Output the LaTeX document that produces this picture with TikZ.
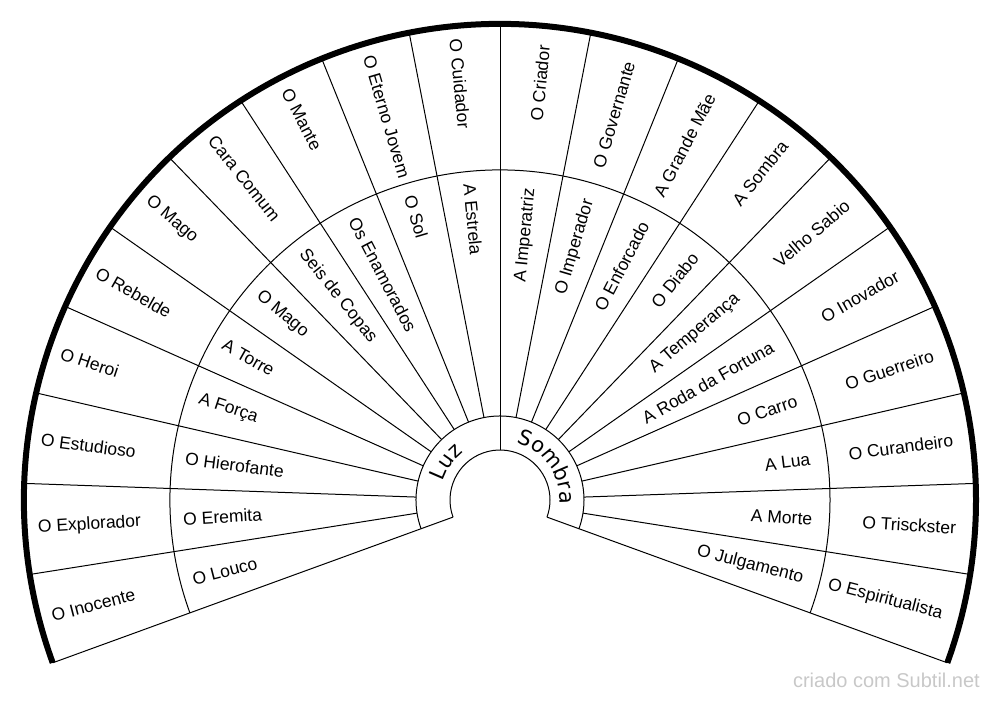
\documentclass[tikz,border=0pt]{standalone}
\usepackage{fontspec}
\setmainfont{Liberation Sans}
\newfontfamily\djv{DejaVu Sans}
\usetikzlibrary{decorations.text}
\definecolor{wmgray}{RGB}{200,200,200}
\begin{document}
\begin{tikzpicture}[x=1pt,y=1pt,
  rline/.style={line width=1pt, black},
  rim/.style={line width=6pt, black},
  lab/.style={font=\fontsize{17.5}{18}\selectfont, inner sep=0pt},
  wmark/.style={font=\fontsize{20}{20}\selectfont, text=wmgray, inner sep=0pt}
]
\useasboundingbox (0,0) rectangle (1000,702);
\coordinate (C) at (500,202);
\begin{scope}[shift={(C)}]
  % rings
  \draw[rline] (200:50) arc[start angle=200, end angle=-20, radius=50];
  \draw[rline] (200:84) arc[start angle=200, end angle=-20, radius=84];
  \draw[rline] (200:330) arc[start angle=200, end angle=-20, radius=330];
  % radial lines
  \foreach \k in {0,...,20} {
    \pgfmathsetmacro\a{-20+11*\k}
    \draw[rline] (\a:84) -- (\a:476);
  }
  \draw[rline] (200:50) -- (200:84);
  \draw[rline] (-20:50) -- (-20:84);
  \draw[rline] (90:50) -- (90:84);
  % outer rim
  \draw[rim] (200:476) arc[start angle=200, end angle=-20, radius=476];
  % right half labels
  \foreach \t [count=\j from 0] in {O Espiritualista, O Trisckster, O Curandeiro, O Guerreiro, O Inovador, Velho Sabio, A Sombra, A Grande Mãe, O Governante, O Criador} {
    \pgfmathsetmacro\a{-14.5+11*\j}
    \node[lab, anchor=east, rotate=\a] (or\j) at (\a:457) {\t};
  }
  \foreach \t [count=\j from 0] in {O Julgamento, A Morte, A Lua, O Carro, A Roda da Fortuna, A Temperança, O Diabo, O Enforcado, O Imperador, A Imperatriz} {
    \pgfmathsetmacro\a{-14.5+11*\j}
    \node[lab, anchor=east, rotate=\a] (mr\j) at (\a:313) {\t};
  }
  % left half labels
  \foreach \t [count=\j from 0] in {O Cuidador, O Eterno Jovem, O Mante, Cara Comum, O Mago, O Rebelde, O Heroi, O Estudioso, O Explorador, O Inocente} {
    \pgfmathsetmacro\a{95.5+11*\j}
    \node[lab, anchor=west, rotate=\a-180] (ol\j) at (\a:463) {\t};
  }
  \foreach \t [count=\j from 0] in {A Estrela, O Sol, Os Enamorados, Seis de Copas, O Mago, A Torre, A Força, O Hierofante, O Eremita, O Louco} {
    \pgfmathsetmacro\a{95.5+11*\j}
    \node[lab, anchor=west, rotate=\a-180] (ml\j) at (\a:317.5) {\t};
  }
  % inner ring curved texts
  \path[decorate, decoration={text along path, text={|\djv\fontsize{21}{21}\selectfont|Luz}, text align=center}]
    (200:60) arc[start angle=200, end angle=90, radius=60];
  \path[decorate, decoration={text along path, text={|\djv\fontsize{21}{21}\selectfont|Sombra}, text align=center}]
    (90:60) arc[start angle=90, end angle=-20, radius=60];
\end{scope}
\node[wmark, anchor=base east] (wm) at (980,14.5) {criado com Subtil.net};
\end{tikzpicture}
\end{document}
